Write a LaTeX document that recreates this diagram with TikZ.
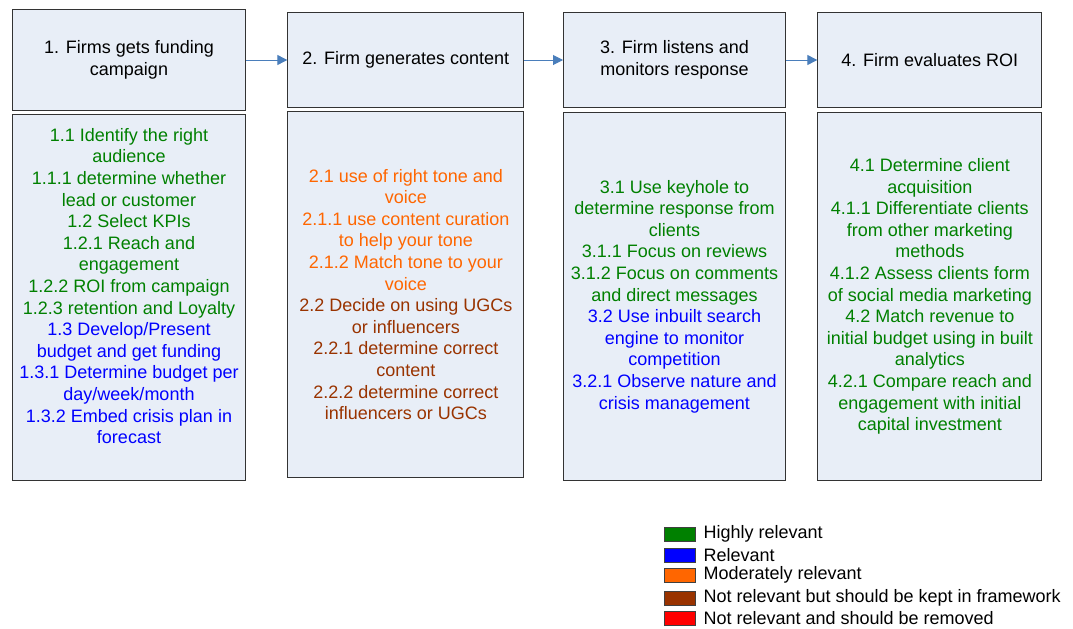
\documentclass[tikz,border=0pt]{standalone}
\usepackage{fontspec}
\setmainfont{Liberation Sans}
\usepackage{xcolor}
\usetikzlibrary{arrows.meta,positioning}

\definecolor{hrel}{HTML}{008000}
\definecolor{rel}{HTML}{0000FF}
\definecolor{mrel}{HTML}{FF6600}
\definecolor{krel}{HTML}{993300}
\definecolor{xrel}{HTML}{FF0000}
\definecolor{boxfill}{HTML}{E8EEF7}
\definecolor{flowblue}{HTML}{4A7EBB}

\tikzset{
  stagebox/.style={draw=black!80, line width=0.75pt, fill=boxfill, align=center, inner sep=2pt},
  txt/.style={align=center, inner sep=0pt},
  flow/.style={draw=flowblue, line width=0.75pt, -{Triangle[length=7.5pt,width=7.5pt]}},
  legbox/.style={draw=black!75, line width=0.5pt, minimum width=23.25pt, minimum height=10.5pt, inner sep=0pt},
  legtxt/.style={inner sep=0pt, anchor=west}
}

\begin{document}
\begin{tikzpicture}[font=\fontsize{13.5}{16.2}\selectfont]
\useasboundingbox (0,0) rectangle (804.75pt,-471pt);
% headers
\node[stagebox, anchor=north west, minimum width=174.75pt, minimum height=75.75pt] (h1) at (9pt,-6.75pt) {1. Firms gets funding\\campaign};%
\node[stagebox, right=31pt of h1, minimum width=177pt, minimum height=71.25pt] (h2) {2. Firm generates content};%
\node[stagebox, right=29pt of h2, minimum width=166.5pt, minimum height=71.25pt] (h3) {3. Firm listens and\\monitors response};%
\node[stagebox, right=23.5pt of h3, minimum width=168pt, minimum height=71.25pt] (h4) {4. Firm evaluates ROI};%

\draw[flow] (h1) -- (h2);
\draw[flow] (h2) -- (h3);
\draw[flow] (h3) -- (h4);

% sub steps
\node[stagebox, below=2.25pt of h1, minimum width=174.75pt, minimum height=274.5pt] (b1) {};%
\node[stagebox, below=2.25pt of h2, minimum width=177pt, minimum height=274.5pt] (b2) {};%
\node[stagebox, below=3pt of h3, minimum width=166.5pt, minimum height=276pt] (b3) {};%
\node[stagebox, below=3pt of h4, minimum width=168pt, minimum height=276pt] (b4) {};%

\node[txt] (t1) at ([yshift=8.6pt]b1.center) {\textcolor{hrel}{1.1 Identify the right}\\\textcolor{hrel}{audience}\\\textcolor{hrel}{1.1.1 determine whether}\\\textcolor{hrel}{lead or customer}\\\textcolor{hrel}{1.2 Select KPIs}\\\textcolor{hrel}{1.2.1 Reach and}\\\textcolor{hrel}{engagement}\\\textcolor{hrel}{1.2.2 ROI from campaign}\\\textcolor{hrel}{1.2.3 retention and Loyalty}\\\textcolor{rel}{1.3 Develop/Present}\\\textcolor{rel}{budget and get funding}\\\textcolor{rel}{1.3.1 Determine budget per}\\\textcolor{rel}{day/week/month}\\\textcolor{rel}{1.3.2 Embed crisis plan in}\\\textcolor{rel}{forecast}};%

\node[txt] (t2) at (b2.center) {\textcolor{mrel}{2.1 use of right tone and}\\\textcolor{mrel}{voice}\\\textcolor{mrel}{2.1.1 use content curation}\\\textcolor{mrel}{to help your tone}\\\textcolor{mrel}{2.1.2 Match tone to your}\\\textcolor{mrel}{voice}\\\textcolor{krel}{2.2 Decide on using UGCs}\\\textcolor{krel}{or influencers}\\\textcolor{krel}{2.2.1 determine correct}\\\textcolor{krel}{content}\\\textcolor{krel}{2.2.2 determine correct}\\\textcolor{krel}{influencers or UGCs}};%

\node[txt] (t3) at (b3.center) {\textcolor{hrel}{3.1 Use keyhole to}\\\textcolor{hrel}{determine response from}\\\textcolor{hrel}{clients}\\\textcolor{hrel}{3.1.1 Focus on reviews}\\\textcolor{hrel}{3.1.2 Focus on comments}\\\textcolor{hrel}{and direct messages}\\\textcolor{rel}{3.2 Use inbuilt search}\\\textcolor{rel}{engine to monitor}\\\textcolor{rel}{competition}\\\textcolor{rel}{3.2.1 Observe nature and}\\\textcolor{rel}{crisis management}};%

\node[txt] (t4) at (b4.center) {\textcolor{hrel}{4.1 Determine client}\\\textcolor{hrel}{acquisition}\\\textcolor{hrel}{4.1.1 Differentiate clients}\\\textcolor{hrel}{from other marketing}\\\textcolor{hrel}{methods}\\\textcolor{hrel}{4.1.2 Assess clients form}\\\textcolor{hrel}{of social media marketing}\\\textcolor{hrel}{4.2 Match revenue to}\\\textcolor{hrel}{initial budget using in built}\\\textcolor{hrel}{analytics}\\\textcolor{hrel}{4.2.1 Compare reach and}\\\textcolor{hrel}{engagement with initial}\\\textcolor{hrel}{capital investment}};%

% legend
\node[legbox, fill=hrel] (lhrel) at (509.6pt,-400.5pt) {};%
\node[legbox, fill=rel] (lrel) at (509.6pt,-416.25pt) {};%
\node[legbox, fill=mrel] (lmrel) at (509.6pt,-431.25pt) {};%
\node[legbox, fill=krel] (lkrel) at (509.6pt,-448.5pt) {};%
\node[legbox, fill=xrel] (lxrel) at (509.6pt,-463.5pt) {};%
\node[legtxt, right=6pt of lhrel] {Highly relevant};%
\node[legtxt, right=6pt of lrel] {Relevant};%
\node[legtxt, right=6pt of lmrel] {Moderately relevant};%
\node[legtxt, right=6pt of lkrel] {Not relevant but should be kept in framework};%
\node[legtxt, right=6pt of lxrel] {Not relevant and should be removed};%
\end{tikzpicture}
\end{document}
